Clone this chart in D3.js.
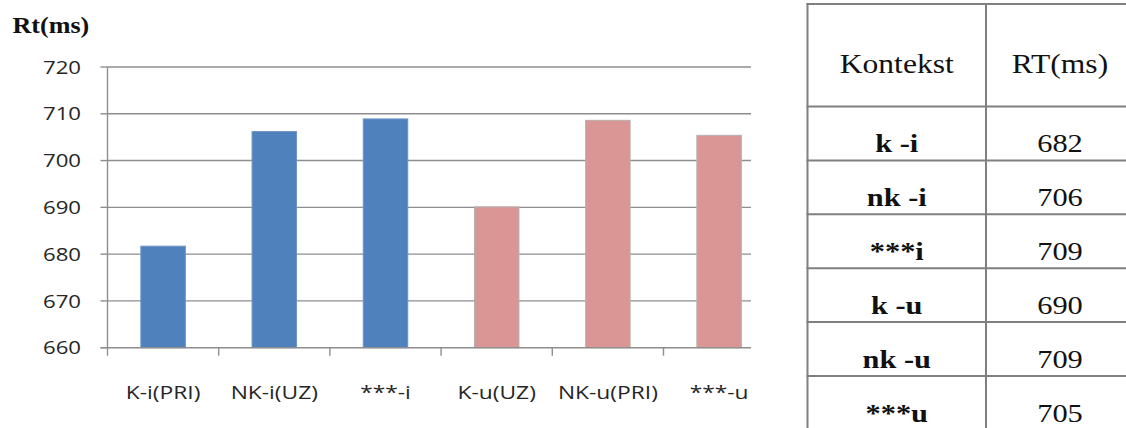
<!DOCTYPE html>
<html>
<head>
<meta charset="utf-8">
<script src="https://cdn.jsdelivr.net/npm/d3@7"></script>
<style>
  html, body { margin: 0; padding: 0; background: #ffffff; }
  svg { display: block; }
</style>
</head>
<body>
<svg id="chart" width="1126" height="428"></svg>
<script>
// ---- data ----
const categories = ["K-i(PRI)", "NK-i(UZ)", "***-i", "K-u(UZ)", "NK-u(PRI)", "***-u"];
const rtValues   = [681.7, 706.2, 708.9, 690.1, 708.6, 705.4];
const groups     = ["i", "i", "i", "u", "u", "u"];
const yTicks     = [660, 670, 680, 690, 700, 710, 720];
const yLabel     = "Rt(ms)";
const tableHeader = ["Kontekst", "RT(ms)"];
const tableLabels = ["k -i", "nk -i", "***i", "k -u", "nk -u", "***u"];
const tableValues = ["682", "706", "709", "690", "709", "705"];

// ---- layout ----
const svg = d3.select("#chart");
const plot = { left: 107.5, top: 67, bottom: 347.7, clipRight: 751 };
const colors = { i: "#4F81BD", u: "#D99694" };
const strokes = { i: "#6f93c4", u: "#b8aeae" };
const gridColor = "#8e8e8e";
const stretchChart = 1.2;

const x = d3.scaleBand()
  .domain(categories)
  .range([plot.left, plot.left + 6 * 111.2])
  .paddingInner(0.6)
  .paddingOuter(0.3);

const y = d3.scaleLinear().domain([660, 720]).range([plot.bottom, plot.top]);

svg.append("defs").append("clipPath").attr("id", "plotclip")
  .append("rect").attr("x", 0).attr("y", 0).attr("width", plot.clipRight).attr("height", 428);

const g = svg.append("g").attr("clip-path", "url(#plotclip)");

// gridlines
g.append("g").selectAll("line").data(yTicks.filter(d => d !== 660)).join("line")
  .attr("x1", plot.left).attr("x2", plot.clipRight)
  .attr("y1", d => y(d)).attr("y2", d => y(d))
  .attr("stroke", gridColor).attr("stroke-width", 1.4);

// y tick marks
g.append("g").selectAll("line").data(yTicks).join("line")
  .attr("x1", plot.left - 7).attr("x2", plot.left)
  .attr("y1", d => y(d)).attr("y2", d => y(d))
  .attr("stroke", gridColor).attr("stroke-width", 1.4);

// bars
g.append("g").selectAll("rect").data(categories).join("rect")
  .attr("x", d => x(d))
  .attr("width", x.bandwidth())
  .attr("y", (d, i) => y(rtValues[i]))
  .attr("height", (d, i) => y(660) - y(rtValues[i]))
  .attr("fill", (d, i) => colors[groups[i]])
  .attr("stroke", (d, i) => strokes[groups[i]])
  .attr("stroke-width", 1);

// y axis line
g.append("line")
  .attr("x1", plot.left).attr("x2", plot.left)
  .attr("y1", plot.top).attr("y2", plot.bottom)
  .attr("stroke", gridColor).attr("stroke-width", 1.4);

// x axis line
g.append("line")
  .attr("x1", plot.left - 7).attr("x2", plot.clipRight)
  .attr("y1", plot.bottom).attr("y2", plot.bottom)
  .attr("stroke", gridColor).attr("stroke-width", 1.4);

// x tick marks at band boundaries
g.append("g").selectAll("line").data(categories).join("line")
  .attr("x1", d => x(d) - x.step() * 0.3)
  .attr("x2", d => x(d) - x.step() * 0.3)
  .attr("y1", plot.bottom).attr("y2", plot.bottom + 8)
  .attr("stroke", gridColor).attr("stroke-width", 1.4);

// y tick labels
g.append("g").selectAll("text").data(yTicks).join("text")
  .attr("transform", d => `translate(81,${y(d)}) scale(${stretchChart},1)`)
  .attr("dy", "0.36em")
  .attr("text-anchor", "end")
  .attr("font-family", "'Open Sans', sans-serif")
  .attr("font-size", 18.5)
  .attr("fill", "#262626")
  .text(d => d);

// x labels
g.append("g").selectAll("text").data(categories).join("text")
  .attr("transform", d => `translate(${x(d) + x.bandwidth() / 2},399) scale(${stretchChart},1)`)
  .attr("text-anchor", "middle")
  .attr("font-family", "'Open Sans', sans-serif")
  .attr("font-size", 19)
  .attr("fill", "#262626")
  .text(d => d);

// y label
svg.append("text")
  .attr("transform", `translate(12.5,33) scale(1.16,1)`)
  .attr("font-family", "'Liberation Serif', 'Times New Roman', serif")
  .attr("font-weight", "bold")
  .attr("font-size", 22.5)
  .attr("fill", "#111")
  .text(yLabel);

// ---- table ----
const tbl = { left: 807.5, mid: 986, right: 1134, top: 4, headBottom: 106.5, rowH: 53.9 };
const stretchTable = 1.17;
const rowScale = d3.scaleBand().domain(tableLabels)
  .range([tbl.headBottom, tbl.headBottom + tableLabels.length * tbl.rowH]);
const lineColor = "#808080";
const tg = svg.append("g");

const hLines = [tbl.top, tbl.headBottom].concat(tableLabels.map(d => rowScale(d) + rowScale.bandwidth()));
tg.selectAll("line.h").data(hLines).join("line").attr("class", "h")
  .attr("x1", tbl.left - 1).attr("x2", 1126)
  .attr("y1", d => d).attr("y2", d => d)
  .attr("stroke", lineColor).attr("stroke-width", 2);
tg.selectAll("line.v").data([tbl.left, tbl.mid]).join("line").attr("class", "v")
  .attr("x1", d => d).attr("x2", d => d)
  .attr("y1", tbl.top - 1).attr("y2", 428)
  .attr("stroke", lineColor).attr("stroke-width", 2);

const col1 = (tbl.left + tbl.mid) / 2;
const col2 = (tbl.mid + tbl.right) / 2;
const serif = "'Liberation Serif', 'Times New Roman', serif";

tg.selectAll("text.head").data(tableHeader).join("text").attr("class", "head")
  .attr("transform", (d, i) => `translate(${i === 0 ? col1 : col2},73) scale(${stretchTable},1)`)
  .attr("text-anchor", "middle")
  .attr("font-family", serif).attr("font-size", 27).attr("fill", "#111")
  .text(d => d);

tg.selectAll("text.lab").data(tableLabels).join("text").attr("class", "lab")
  .attr("transform", d => `translate(${col1},${rowScale(d) + rowScale.bandwidth() - 8}) scale(${stretchTable},1)`)
  .attr("text-anchor", "middle")
  .attr("font-family", serif).attr("font-weight", "bold").attr("font-size", 26).attr("fill", "#111")
  .text(d => d);

tg.selectAll("text.val").data(tableValues).join("text").attr("class", "val")
  .attr("transform", (d, i) => `translate(${col2},${rowScale(tableLabels[i]) + rowScale.bandwidth() - 8}) scale(${stretchTable},1)`)
  .attr("text-anchor", "middle")
  .attr("font-family", serif).attr("font-size", 26).attr("fill", "#111")
  .text(d => d);
</script>
</body>
</html>
